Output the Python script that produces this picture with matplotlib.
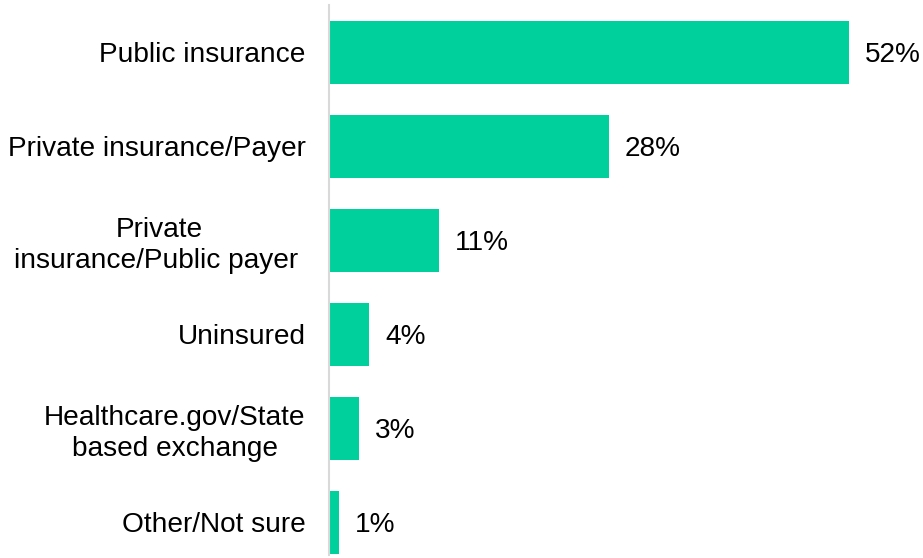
import matplotlib.pyplot as plt

plt.rcParams['font.family'] = ['Liberation Sans', 'DejaVu Sans']

categories = [
    "Public insurance",
    "Private insurance/Payer",
    "Private\ninsurance/Public payer ",
    "Uninsured",
    "Healthcare.gov/State\nbased exchange",
    "Other/Not sure",
]
values = [52, 28, 11, 4, 3, 1]
value_labels = ["52%", "28%", "11%", "4%", "3%", "1%"]

bar_color = '#00D09C'
fs = 20.2

fig = plt.figure(figsize=(9.23, 5.58), dpi=100)
ax = fig.add_axes([329 / 923, 3 / 558, 1 - 329 / 923, 550 / 558])

pos = list(range(len(categories)))
ax.barh(pos, values, height=0.67, color=bar_color, align='center')

for i, (v, lab) in enumerate(zip(values, value_labels)):
    ax.annotate(lab, xy=(v, i), xytext=(11.5, -2.2), textcoords='offset points',
                ha='left', va='center', fontsize=fs, color='black')

ax.set_xlim(0, 59.4)
ax.set_ylim(5.35, -0.5)
ax.set_yticks(pos)
ax.set_yticklabels(categories, fontsize=fs, multialignment='center',
                   linespacing=1.25)
ax.tick_params(axis='y', length=0, pad=17)
ax.set_xticks([])

for side in ['top', 'right', 'bottom']:
    ax.spines[side].set_visible(False)
ax.spines['left'].set_color('#D9D9D9')
ax.spines['left'].set_linewidth(1.5)

fig.savefig('out.png', dpi=100)
